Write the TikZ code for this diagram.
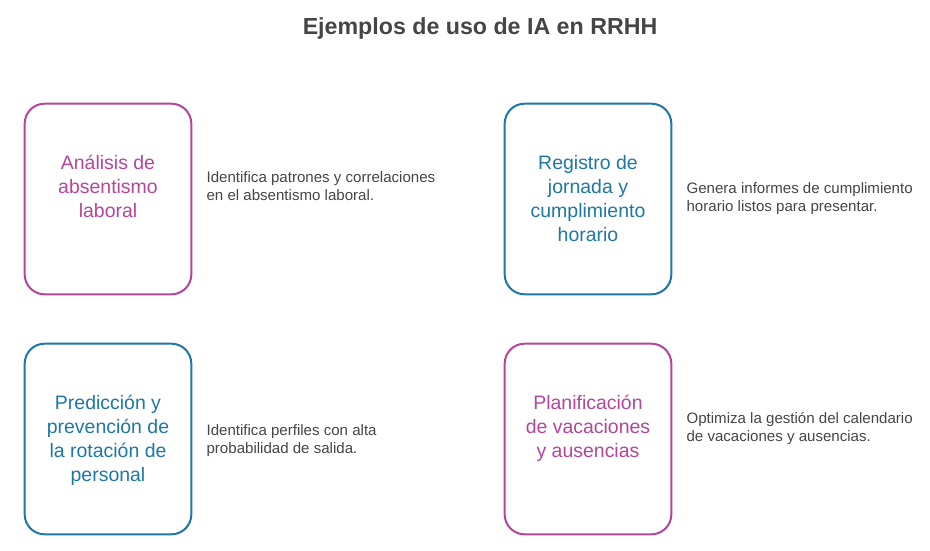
\documentclass[tikz,border=0pt]{standalone}
\usepackage{fontspec}
\setmainfont{Liberation Sans}
\usetikzlibrary{positioning}
\definecolor{magc}{HTML}{B5459B}
\definecolor{bluc}{HTML}{1D77A8}
\definecolor{ink}{HTML}{454545}
\tikzset{
  card/.style={draw=#1,line width=1.5pt,rounded corners=15pt,minimum width=125pt,minimum height=143pt,inner sep=0pt},
  card/.default=magc,
  head/.style={text=#1,anchor=north,align=center,inner sep=0pt,font=\fontsize{14.6}{18}\selectfont},
  head/.default=magc,
  desc/.style={text=ink,anchor=west,align=left,inner sep=0pt,font=\fontsize{11.3}{13.5}\selectfont},
}

\begin{document}
\begin{tikzpicture}[x=0.75pt,y=-0.75pt]
  \useasboundingbox (0,0) rectangle (930,550);
  \node[text=ink,font=\fontsize{17.4}{20}\selectfont\bfseries] (title) at (480,28) {Ejemplos de uso de IA en RRHH};
  % cards
  \node[card=magc] (abs) at (108,199) {};
  \node[card=bluc] (reg) at (588,199) {};
  \node[card=bluc] (rot) at (108,439) {};
  \node[card=magc] (vac) at (588,439) {};
  \node[head=magc] (abst) at (108,155) {Análisis de\\absentismo\\laboral};
  \node[head=bluc] (regt) at (588,155) {Registro de\\jornada y\\cumplimiento\\horario};
  \node[head=bluc] (rott) at (108,395) {Predicción y\\prevención de\\la rotación de\\personal};
  \node[head=magc] (vact) at (588,395) {Planificación\\de vacaciones\\y ausencias};
  % descriptions
  \node[desc,xshift=10.5pt] (absd) at (abst.center -| abs.east) {Identifica patrones y correlaciones\\en el absentismo laboral.};
  \node[desc,xshift=10.5pt] (regd) at (regt.center -| reg.east) {Genera informes de cumplimiento\\horario listos para presentar.};
  \node[desc,xshift=10.5pt] (rotd) at (rott.center -| rot.east) {Identifica perfiles con alta\\probabilidad de salida.};
  \node[desc,xshift=10.5pt] (vacd) at (vact.center -| vac.east) {Optimiza la gestión del calendario\\de vacaciones y ausencias.};
\end{tikzpicture}
\end{document}
